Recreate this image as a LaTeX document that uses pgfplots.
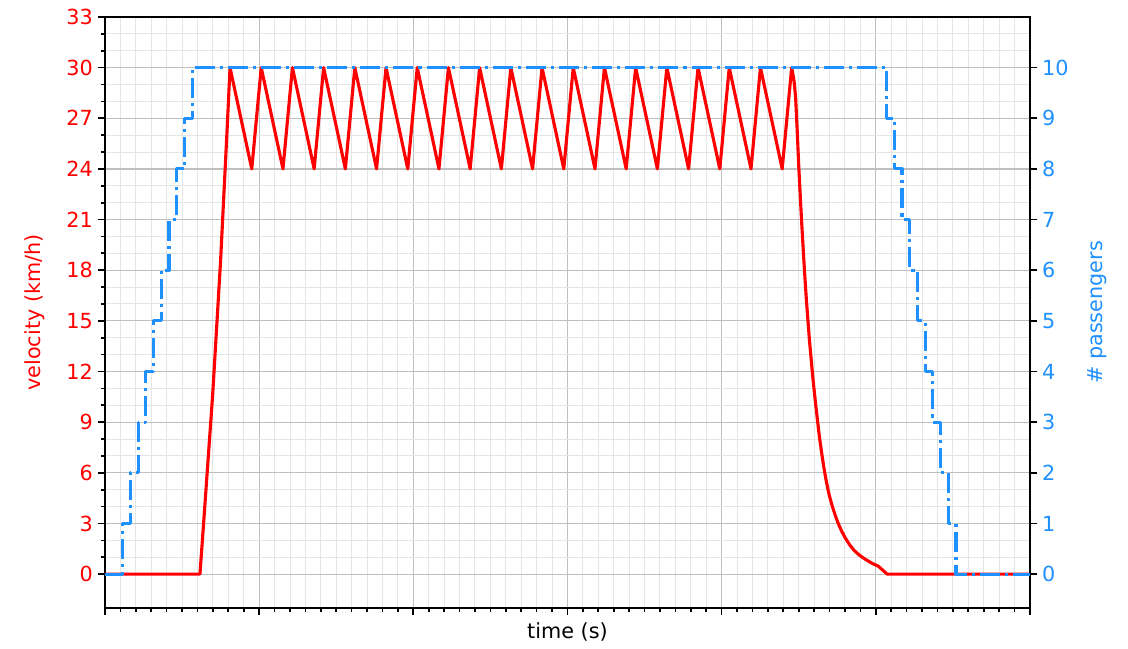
\documentclass[border=0pt]{standalone}
\usepackage{fontspec}
\setmainfont{DejaVu Sans}
\usepackage{pgfplots}
\pgfplotsset{compat=1.18}
\definecolor{vred}{RGB}{255,0,0}
\definecolor{pblue}{RGB}{30,144,255}
\newcommand{\ff}{\fontsize{15}{18}\selectfont}
\begin{document}
\begin{tikzpicture}
\begin{axis}[
  name=main,
  scale only axis, width=666bp, height=425.5bp,
  xmin=0, xmax=60, ymin=-2, ymax=33,
  tick pos=left, tick align=outside,
  xtick={0,10,...,60}, xticklabels={}, minor x tick num=9,
  ytick={0,3,...,33}, minor y tick num=2,
  grid=both,
  major grid style={draw=black!25, line width=0.9bp},
  minor grid style={draw=black!10, line width=0.7bp},
  major tick length=5.25bp, minor tick length=3bp,
  every tick/.style={black, line width=1.2bp},
  axis line style={line width=1.2bp},
  yticklabel style={text=vred, font=\ff},
  /pgf/number format/assume math mode=true,
  every axis x label/.style={at={(axis description cs:0.5,0)}, anchor=north, yshift=-7bp, font=\ff},
  every axis y label/.style={at={(axis description cs:-0.0757,0.5)}, anchor=center, rotate=90, font=\ff},
  xlabel={time (s)},
  ylabel={velocity (km/h)}, ylabel style={text=vred},
]
\addplot[vred, line width=2.25bp, line join=round, line cap=round] coordinates {
(0,0) (6.16,0) (6.38,2.8) (6.99,10.7) (7.50,18.6) (7.93,26.5)
(8.110,30) (9.520,24) (10.134,30) (11.544,24) (12.158,30) (13.568,24)
(14.182,30) (15.592,24) (16.206,30) (17.616,24) (18.230,30) (19.640,24)
(20.254,30) (21.664,24) (22.278,30) (23.688,24) (24.302,30) (25.712,24)
(26.326,30) (27.736,24) (28.350,30) (29.760,24) (30.374,30) (31.784,24)
(32.398,30) (33.808,24) (34.422,30) (35.832,24) (36.446,30) (37.856,24)
(38.470,30) (39.880,24) (40.494,30) (41.904,24) (42.518,30) (43.928,24)
(44.542,30) (44.70,29.2) (44.8,28.2) (44.9,26.3) (45.0,24.2) (45.1,22.4)
(45.2,20.7) (45.3,19.1) (45.4,17.6) (45.5,16.2) (45.6,15.0) (45.7,13.8)
(45.8,12.8) (45.9,11.8) (46.0,10.9) (46.1,10.05) (46.2,9.25) (46.3,8.45)
(46.4,7.75) (46.5,7.1) (46.6,6.5) (46.7,5.95) (46.8,5.45) (46.9,5.0)
(47.0,4.6) (47.2,3.95) (47.4,3.4) (47.6,2.92) (47.8,2.52) (48.0,2.17)
(48.3,1.74) (48.6,1.40) (48.9,1.15) (49.2,0.95) (49.5,0.78) (49.8,0.62)
(50.1,0.50) (50.2,0.44) (50.74,0) (60,0)
};
\end{axis}
\begin{axis}[
  scale only axis, width=666bp, height=425.5bp,
  xmin=0, xmax=60, ymin=-0.666667, ymax=11,
  axis x line=none, axis y line*=right,
  tick align=outside,
  ytick={0,1,...,10}, minor y tick num=0,
  major tick length=5.25bp,
  every tick/.style={black, line width=1.2bp},
  axis line style={line width=1.2bp},
  yticklabel style={text=pblue, font=\ff},
  /pgf/number format/assume math mode=true,
  every axis y label/.style={at={(axis description cs:1.0724,0.5)}, anchor=center, rotate=90, font=\ff},
  ylabel={\# passengers}, ylabel style={text=pblue},
]
\addplot[pblue, line width=2.25bp, line join=round, const plot, dash pattern=on 14.4bp off 3.6bp on 2.25bp off 3.6bp] coordinates {
(0,0) (1.15,1) (1.65,2) (2.15,3) (2.65,4) (3.15,5) (3.65,6) (4.15,7) (4.65,8) (5.15,9) (5.65,10)
(50.7,9) (51.2,8) (51.7,7) (52.2,6) (52.7,5) (53.2,4) (53.7,3) (54.2,2) (54.7,1) (55.2,0) (60,0)
};
\end{axis}
\pgfresetboundingbox
\path ([xshift=-75.6bp,yshift=-29.5bp]main.south west) rectangle ([xshift=70.6bp,yshift=12.2bp]main.north east);
\end{tikzpicture}
\end{document}
